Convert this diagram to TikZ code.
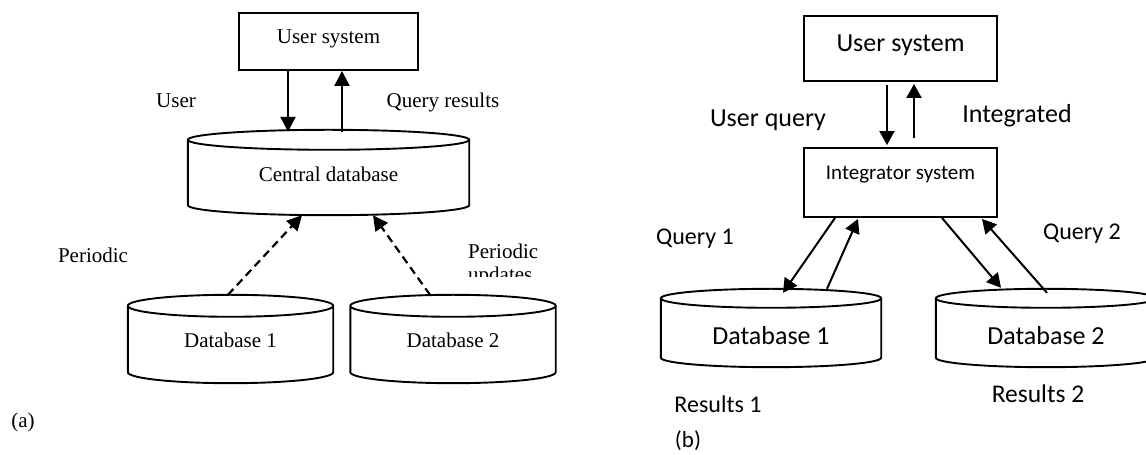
\documentclass[tikz,border=0pt]{standalone}
\usepackage{fontspec}
\setmainfont{Liberation Serif}
\newfontfamily\calfont{Carlito}
\usetikzlibrary{arrows.meta,calc}
\tikzset{
  box/.style={draw, line width=1.9pt, inner sep=0pt},
  cylline/.style={line width=1.9pt},
  cylnode/.style={inner sep=0pt},
  arr/.style={line width=2.2pt, -{Triangle[length=15pt,width=15pt]}},
  rarr/.style={line width=2pt, -{Triangle[length=14pt,width=15pt]}},
  darr/.style={arr, dash pattern=on 8pt off 5pt},
  tfont/.style={font=\fontsize{21}{25}\selectfont},
  cfont/.style={font=\calfont\fontsize{#1}{#1}\selectfont},
  cfont/.default=26,
  lab/.style={inner sep=0pt, anchor=base}
}
\newcommand\drawcyl[2]{%
  \draw[cylline] let \p1=(#1.north west), \p2=(#1.south east), \n1={(\x2-\x1)/2} in
    (\x1,\y1-#2) -- (\x1,\y2+#2) arc[start angle=180,end angle=360,x radius=\n1,y radius=#2] -- (\x2,\y1-#2)
    (\x1+\n1,\y1-#2) ellipse[x radius=\n1,y radius=#2];}
\begin{document}
\begin{tikzpicture}[x=1pt,y=1pt]
\useasboundingbox (0,0) rectangle (1146,455);
% ---------- (a) ----------
\node[box, tfont, minimum width=179pt, minimum height=57pt, text height=14pt, text depth=9pt] (us1) at (328.5,413.5) {User system};
\node[cylnode, tfont, minimum width=281pt, minimum height=85pt, text height=33pt, text depth=14pt] (cdb) at (328.5,282.5) {Central database};
\drawcyl{cdb}{10pt}
\node[cylnode, tfont, minimum width=205pt, minimum height=88pt, text height=32pt, text depth=14pt] (adb1) at (230.5,116) {Database 1};
\drawcyl{adb1}{11pt}
\node[cylnode, tfont, minimum width=205pt, minimum height=88pt, text height=32pt, text depth=14pt] (adb2) at (453,116) {Database 2};
\drawcyl{adb2}{11pt}
\node[lab, tfont] (luser) at (176,347) {User};
\node[lab, tfont] (lqr) at (443,347) {Query results};
\node[lab, tfont] (lper1) at (93,192) {Periodic};
\node[lab, tfont, anchor=base west] (lper2) at (468,196) {Periodic};
\begin{scope}
  \clip (440,178) rectangle (580,194);
  \node[lab, tfont, anchor=base west] (lupd) at (468,173.5) {updates};
\end{scope}
\node[lab, tfont] (la) at (23,27) {(a)};
\draw[arr] ([xshift=-40.5pt]us1.south) -- ([xshift=-40.5pt,yshift=-2pt]cdb.north);
\draw[arr] ([xshift=13.5pt,yshift=-2pt]cdb.north) -- ([xshift=13.5pt]us1.south);
\draw[darr] ([xshift=-2.5pt]adb1.north) -- ([xshift=-26.5pt]cdb.south);
\draw[darr] ([xshift=-23pt]adb2.north) -- ([xshift=44.5pt]cdb.south);
% ---------- (b) ----------
\node[box, cfont=26, minimum width=193pt, minimum height=65pt, text height=17pt, text depth=10pt] (us2) at (900.5,406.5) {User system};
\node[box, cfont=21, minimum width=193pt, minimum height=69pt, text height=15pt, text depth=20pt] (integ) at (900.5,272.5) {Integrator system};
\node[cylnode, cfont=26, minimum width=220pt, minimum height=78pt, text height=48pt, text depth=14pt] (bdb1) at (771,127) {Database 1};
\drawcyl{bdb1}{9.5pt}
\node[cylnode, cfont=26, minimum width=220pt, minimum height=78pt, text height=48pt, text depth=14pt] (bdb2) at (1046,127) {Database 2};
\drawcyl{bdb2}{9.5pt}
\node[lab, cfont=26] (luq) at (768,328) {User query};
\node[lab, cfont=26] (lint) at (1017,332) {Integrated};
\node[lab, cfont=24] (lq1) at (695,210) {Query 1};
\node[lab, cfont=24] (lq2) at (1082,215) {Query 2};
\node[lab, cfont=24] (lr1) at (718,42) {Results 1};
\node[lab, cfont=25.5] (lr2) at (1038,52) {Results 2};
\node[lab, cfont=23] (lb) at (688,7) {(b)};
\draw[rarr] ([xshift=-13.5pt,yshift=-3pt]us2.south) -- ([xshift=-13.5pt,yshift=2pt]integ.north);
\draw[rarr] ([xshift=13.5pt,yshift=9pt]integ.north) -- ([xshift=13.5pt,yshift=-2pt]us2.south);
\draw[rarr] ([xshift=-65.5pt]integ.south) -- ([xshift=12pt,yshift=-4pt]bdb1.north);
\draw[rarr] ([xshift=56pt]bdb1.north) -- ([xshift=-42.5pt,yshift=-1pt]integ.south);
\draw[rarr] ([xshift=41.5pt]integ.south) -- ([xshift=-45pt,yshift=1pt]bdb2.north);
\draw[rarr] ([xshift=1pt,yshift=-4pt]bdb2.north) -- ([xshift=81.5pt,yshift=-1pt]integ.south);
\end{tikzpicture}
\end{document}
